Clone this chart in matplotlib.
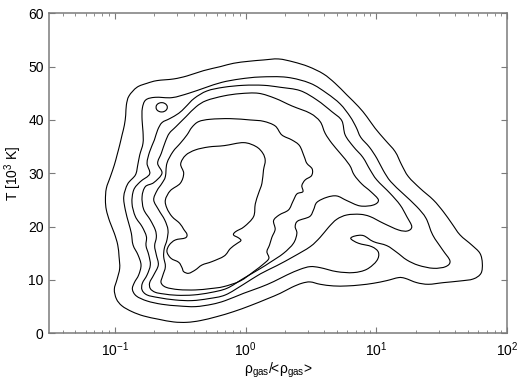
import numpy as np
import matplotlib
matplotlib.use("Agg")
import matplotlib.pyplot as plt
from matplotlib.path import Path
from matplotlib.patches import PathPatch
from matplotlib.ticker import LogLocator, LogFormatterSciNotation, NullFormatter

plt.rcParams['font.family'] = ['Liberation Sans', 'DejaVu Sans']
plt.rcParams['mathtext.fontset'] = 'custom'
plt.rcParams['mathtext.rm'] = 'Liberation Sans'
plt.rcParams['mathtext.it'] = 'Liberation Sans'

# Contour lines: log10(rho_gas/<rho_gas>) and T [10^3 K]
c1_logrho = [-1.071, -1.064, -1.033, -1.003, -0.982, -0.962, -0.944, -0.926, -0.916, -0.911, -0.891, -0.830,
             -0.753, -0.677, -0.550, -0.448, -0.321, -0.193, -0.092, 0.023, 0.137, 0.252, 0.366, 0.481,
             0.595, 0.684, 0.774, 0.863, 0.926, 0.990, 1.066, 1.143, 1.193, 1.244, 1.333, 1.435,
             1.511, 1.575, 1.639, 1.728, 1.791, 1.809, 1.799, 1.740, 1.639, 1.511, 1.397, 1.308,
             1.219, 1.168, 1.079, 0.977, 0.875, 0.774, 0.672, 0.570, 0.494, 0.430, 0.354, 0.265,
             0.163, 0.036, -0.092, -0.219, -0.346, -0.448, -0.550, -0.664, -0.779, -0.868, -0.944, -0.987,
             -1.003, -0.982, -0.962, -0.967, -0.977, -1.003, -1.038, -1.064]
c1_T = [25.0, 27.19, 29.38, 31.56, 33.44, 35.31, 37.19, 39.06, 40.94, 42.81, 44.5, 46.13,
        46.88, 47.38, 47.69, 48.25, 49.25, 50.0, 50.63, 51.0, 51.25, 51.44, 50.88, 50.0,
        48.63, 46.88, 44.69, 42.5, 40.63, 38.44, 36.25, 34.06, 31.56, 29.38, 27.19, 25.0,
        22.81, 20.63, 18.44, 16.56, 15.0, 13.13, 11.25, 10.19, 9.81, 9.5, 9.19, 9.5,
        10.31, 10.44, 9.88, 9.38, 9.06, 8.88, 8.88, 9.19, 9.63, 9.38, 8.63, 7.5,
        6.44, 5.19, 4.06, 3.13, 2.38, 2.06, 2.13, 2.63, 3.25, 4.06, 5.13, 6.44,
        8.25, 10.13, 12.19, 14.38, 16.56, 18.75, 20.94, 23.13]

c2_logrho = [-0.931, -0.901, -0.842, -0.824, -0.809, -0.784, -0.784, -0.791, -0.789, -0.763, -0.690, -0.562,
             -0.435, -0.308, -0.181, -0.041, 0.112, 0.316, 0.494, 0.621, 0.723, 0.799, 0.845, 0.880,
             0.947, 1.003, 1.053, 1.109, 1.206, 1.308, 1.379, 1.430, 1.506, 1.562, 1.529, 1.435,
             1.321, 1.232, 1.155, 1.079, 0.977, 0.901, 0.837, 0.804, 0.863, 0.964, 1.015, 1.003,
             0.926, 0.824, 0.697, 0.570, 0.494, 0.417, 0.316, 0.214, 0.112, -0.015, -0.155, -0.257,
             -0.384, -0.511, -0.639, -0.753, -0.835, -0.865, -0.850, -0.817, -0.799, -0.822, -0.860, -0.873,
             -0.893, -0.919]
c2_T = [25.63, 28.0, 29.69, 31.56, 33.44, 35.63, 37.81, 40.0, 42.19, 43.75, 44.25, 44.19,
        45.0, 46.06, 47.06, 47.69, 48.06, 48.0, 46.88, 45.0, 43.0, 40.63, 38.63, 36.75,
        34.88, 32.81, 30.5, 28.44, 26.13, 23.75, 21.56, 18.44, 15.63, 13.56, 12.5, 12.19,
        12.75, 13.75, 15.19, 16.44, 17.19, 18.31, 18.25, 17.75, 16.88, 16.25, 15.19, 13.63,
        12.0, 11.38, 11.56, 12.31, 12.5, 12.0, 10.94, 9.69, 8.63, 7.5, 6.13, 5.44,
        5.0, 5.13, 5.44, 6.06, 7.0, 8.25, 9.5, 10.94, 12.81, 14.69, 16.56, 18.75,
        20.63, 23.13]

c3_logrho = [-0.868, -0.855, -0.804, -0.733, -0.753, -0.733, -0.697, -0.672, -0.639, -0.580, -0.511, -0.461,
             -0.392, -0.295, -0.168, -0.015, 0.137, 0.265, 0.417, 0.545, 0.659, 0.735, 0.761, 0.824,
             0.896, 0.952, 1.003, 1.104, 1.181, 1.232, 1.270, 1.237, 1.168, 1.053, 0.952, 0.875,
             0.774, 0.697, 0.634, 0.570, 0.494, 0.366, 0.239, 0.112, -0.015, -0.155, -0.282, -0.410,
             -0.537, -0.664, -0.753, -0.791, -0.789, -0.753, -0.728, -0.740, -0.761, -0.758, -0.791, -0.842]
c3_T = [24.38, 26.88, 28.44, 29.88, 31.88, 34.06, 36.25, 38.13, 39.5, 40.25, 41.25, 42.38,
        44.06, 45.44, 46.13, 46.5, 46.5, 46.13, 45.5, 43.75, 41.56, 39.88, 37.19, 35.0,
        33.0, 30.63, 28.75, 26.25, 24.06, 21.88, 20.0, 19.19, 19.38, 20.63, 21.88, 22.31,
        22.19, 21.38, 19.88, 18.0, 16.25, 14.38, 12.69, 11.13, 9.19, 7.19, 6.5, 6.13,
        6.25, 6.69, 7.19, 8.13, 9.38, 10.94, 12.81, 14.69, 16.44, 18.13, 20.0, 21.88]

c4_logrho = [-0.791, -0.766, -0.702, -0.639, -0.672, -0.644, -0.613, -0.583, -0.532, -0.455, -0.377, -0.300,
             -0.168, -0.041, 0.099, 0.226, 0.354, 0.494, 0.570, 0.608, 0.659, 0.723, 0.794, 0.830,
             0.888, 0.957, 1.015, 0.977, 0.875, 0.774, 0.697, 0.621, 0.545, 0.519, 0.489, 0.399,
             0.379, 0.392, 0.366, 0.290, 0.188, 0.112, -0.015, -0.142, -0.270, -0.397, -0.524, -0.626,
             -0.690, -0.728, -0.733, -0.702, -0.667, -0.682, -0.695, -0.682, -0.690, -0.728, -0.779]
c4_T = [25.63, 27.5, 28.25, 30.0, 31.88, 33.75, 35.94, 37.5, 38.75, 40.63, 42.5, 43.63,
        44.5, 44.94, 45.0, 44.06, 42.63, 41.25, 39.69, 37.5, 35.63, 33.75, 31.56, 29.69,
        28.0, 26.56, 25.0, 24.06, 23.88, 24.88, 25.75, 25.5, 24.56, 23.13, 21.88, 21.06,
        20.0, 18.75, 16.88, 15.0, 13.31, 12.13, 10.31, 8.44, 7.63, 7.19, 7.13, 7.38,
        7.69, 8.38, 9.5, 10.94, 12.81, 14.69, 16.38, 18.0, 19.38, 21.25, 23.25]

c5_logrho = [-0.702, -0.677, -0.639, -0.613, -0.601, -0.555, -0.499, -0.448, -0.410, -0.359, -0.270, -0.117,
             0.036, 0.137, 0.226, 0.277, 0.354, 0.412, 0.448, 0.468, 0.509, 0.504, 0.455, 0.430,
             0.438, 0.392, 0.361, 0.328, 0.257, 0.214, 0.226, 0.201, 0.183, 0.163, 0.178, 0.137,
             0.061, -0.041, -0.168, -0.270, -0.384, -0.511, -0.608, -0.646, -0.634, -0.613, -0.626, -0.621,
             -0.601, -0.593, -0.618, -0.664]
c5_T = [25.0, 26.75, 28.13, 29.38, 31.88, 34.06, 35.63, 37.19, 38.63, 39.69, 40.13, 40.25,
        40.0, 39.75, 38.88, 37.19, 36.25, 35.19, 33.13, 31.88, 30.81, 29.56, 28.75, 27.69,
        26.56, 26.13, 24.69, 23.13, 22.19, 21.13, 19.5, 18.0, 16.56, 15.31, 14.06, 13.0,
        11.56, 9.81, 8.75, 8.38, 8.13, 8.19, 8.63, 9.5, 10.75, 12.5, 14.38, 15.94,
        17.5, 19.38, 21.25, 23.13]

c6_logrho = [-0.613, -0.575, -0.499, -0.473, -0.496, -0.458, -0.384, -0.282, -0.163, -0.015, 0.081, 0.132,
             0.150, 0.137, 0.125, 0.099, 0.074, 0.061, -0.010, -0.076, -0.092, -0.053, -0.036, -0.071,
             -0.117, -0.163, -0.257, -0.333, -0.384, -0.435, -0.473, -0.486, -0.511, -0.570, -0.601, -0.583,
             -0.537, -0.461, -0.448, -0.473, -0.504, -0.562, -0.601]
c6_T = [25.0, 26.75, 28.13, 30.0, 31.75, 33.38, 34.38, 34.94, 35.19, 35.75, 35.0, 33.75,
        32.38, 30.63, 28.13, 26.25, 24.25, 21.88, 20.0, 19.06, 18.44, 17.88, 17.38, 16.75,
        15.88, 14.5, 13.44, 12.81, 11.88, 11.25, 11.56, 12.31, 13.31, 14.06, 15.31, 16.56,
        17.5, 17.88, 18.56, 19.5, 20.63, 21.88, 23.44]

# small closed loop near (0.23, 42)
loop_logrho = [-0.598, -0.604, -0.620, -0.641, -0.663, -0.679, -0.684, -0.679, -0.663, -0.641, -0.620, -0.604]
loop_T = [42.38, 42.81, 43.13, 43.25, 43.13, 42.81, 42.38, 41.94, 41.62, 41.5, 41.62, 41.94]

contours = [(c1_logrho, c1_T), (c2_logrho, c2_T), (c3_logrho, c3_T),
            (c4_logrho, c4_T), (c5_logrho, c5_T), (c6_logrho, c6_T),
            (loop_logrho, loop_T)]

y_ticks = [0, 10, 20, 30, 40, 50, 60]


def smooth_closed_path(lx, t):
    """Closed curve through the traced points (Catmull-Rom drawn as cubic Bezier)."""
    p = np.column_stack([np.asarray(lx, float), np.asarray(t, float)])
    n = len(p)
    verts = [p[0]]
    codes = [Path.MOVETO]
    for i in range(n):
        p0, p1, p2, p3 = p[i - 1], p[i], p[(i + 1) % n], p[(i + 2) % n]
        c1 = p1 + (p2 - p0) / 6.0
        c2 = p2 - (p3 - p1) / 6.0
        verts += [c1, c2, p2]
        codes += [Path.CURVE4] * 3
    verts = np.array(verts)
    verts[:, 0] = 10 ** verts[:, 0]
    return Path(verts, codes)


W, H = 522, 378
fig = plt.figure(figsize=(W / 100, H / 100), dpi=100)
ax = fig.add_axes([49.3 / W, (H - 333.3) / H, 458.0 / W, 320.0 / H])

ax.set_xscale('log')
ax.set_xlim(10 ** -1.5, 100)
ax.set_ylim(0, 60)

for lx, t in contours:
    ax.add_patch(PathPatch(smooth_closed_path(lx, t), facecolor='none',
                           edgecolor='black', lw=0.8))

ax.xaxis.set_major_locator(LogLocator(base=10, subs=(1.0,)))
ax.xaxis.set_minor_locator(LogLocator(base=10, subs=np.arange(2, 10)))
ax.xaxis.set_minor_formatter(NullFormatter())
ax.xaxis.set_major_formatter(LogFormatterSciNotation())
ax.set_yticks(y_ticks)

spine_col = '#7a7a7a'
for s in ax.spines.values():
    s.set_color(spine_col)
    s.set_linewidth(1.1)

ax.tick_params(which='both', direction='in', top=True, right=True, colors=spine_col,
               labelcolor='black', labelsize=10)
ax.tick_params(which='major', length=4, width=0.8, pad=4)
ax.tick_params(which='minor', length=2.2, width=0.6)
ax.tick_params(axis='x', which='major', pad=5)

ax.set_ylabel('T [10$^3$ K]', fontsize=10, labelpad=3)
ax.set_xlabel('ρ$_{\\mathregular{gas}}$/<ρ$_{\\mathregular{gas}}$>', fontsize=10, labelpad=1)

fig.savefig('out.png', dpi=100)
